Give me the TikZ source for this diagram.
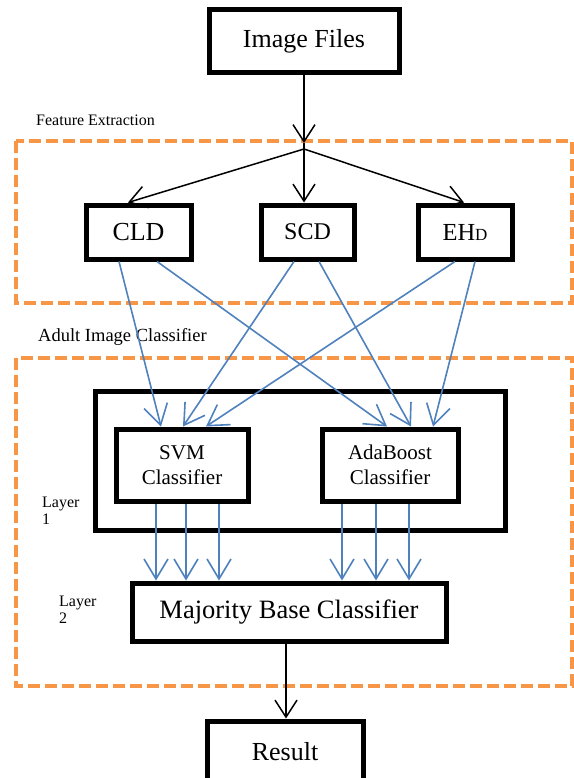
\documentclass[tikz,border=0pt]{standalone}
\usepackage{fontspec}
\setmainfont{Liberation Serif}
\usetikzlibrary{arrows.meta,calc}
\definecolor{dashorange}{HTML}{F79646}
\definecolor{linkblue}{HTML}{4F81BD}
\begin{document}
\begin{tikzpicture}[x=1pt,y=-1pt,
  blk/.style={draw=black,line width=5pt,inner sep=0pt,align=center,font=\fontsize{26}{30}\selectfont},
  grp/.style={draw=dashorange,line width=4.5pt,dash pattern=on 12pt off 5pt},
  lbl/.style={inner sep=0pt,anchor=west,align=left},
  barrow/.style={draw=black,line width=1.5pt,-{Straight Barb[length=17pt,width=22pt]}},
  uarrow/.style={draw=linkblue,line width=1.6pt,-{Straight Barb[length=20pt,width=24pt]}}]
\useasboundingbox (0,0) rectangle (573,778);
% dashed groups
\draw[grp] (16,141) rectangle (572,303);
\draw[grp] (16,358) rectangle (572,686);
% labels
\node[lbl,font=\fontsize{16}{18}\selectfont] (fe) at (36,120) {Feature Extraction};
\node[lbl,font=\fontsize{18.5}{21}\selectfont] (aic) at (38,337) {Adult Image Classifier};
\node[lbl,font=\fontsize{16}{17}\selectfont] (l1) at (42,511) {Layer\\1};
\node[lbl,font=\fontsize{16}{17}\selectfont] (l2) at (59,610) {Layer\\2};
% boxes
\node[blk,minimum width=190pt,minimum height=63pt] (img) at (304,41.5) {Image Files};
\node[blk,minimum width=105pt,minimum height=54pt] (cld) at (138.5,232) {CLD};
\node[blk,minimum width=93pt,minimum height=54pt,font=\fontsize{24}{28}\selectfont] (scd) at (307.5,232) {SCD};
\node[blk,minimum width=94pt,minimum height=54pt,font=\fontsize{24.5}{28}\selectfont] (ehd) at (465,232) {EH{\fontsize{17}{17}\selectfont D}};
\node[draw=black,line width=5pt,minimum width=410pt,minimum height=139pt] (lay) at (300,460.5) {};
\node[blk,minimum width=132pt,minimum height=72pt,font=\fontsize{21}{25}\selectfont] (svm) at (182,465) {SVM\\Classifier};
\node[blk,minimum width=136pt,minimum height=72pt,font=\fontsize{21}{25}\selectfont] (ada) at (390,465) {AdaBoost\\Classifier};
\node[blk,minimum width=314pt,minimum height=58pt,font=\fontsize{26.5}{30}\selectfont] (mbc) at (289,612) {Majority Base Classifier};
\node[blk,minimum width=156pt,minimum height=62pt] (res) at (285,752) {Result};
% black connectors
\coordinate (tip) at (304,143);
\coordinate (br) at (304,149);
\draw[barrow] (img.south -| tip) -- (tip);
\draw[line width=1.5pt] (tip) -- (br);
\draw[barrow] (br) -- ([xshift=-10.5pt]cld.north);
\draw[barrow] (br) -- (br |- scd.north);
\draw[barrow] (br) -- ([xshift=-1pt]ehd.north);
\draw[barrow] ([xshift=-3pt]mbc.south) -- ([xshift=-3pt]mbc.south |- res.north);
% blue connectors from features to classifiers
\draw[uarrow] ([xshift=-19.5pt]cld.south) -- ([xshift=-21pt]svm.north);
\draw[uarrow] ([xshift=18.5pt]cld.south) -- ([xshift=-3pt]ada.north);
\draw[uarrow] ([xshift=-13.5pt]scd.south) -- ([xshift=1pt]svm.north);
\draw[uarrow] ([xshift=11.5pt]scd.south) -- ([xshift=21pt]ada.north);
\draw[uarrow] ([xshift=-10pt]ehd.south) -- ([xshift=24pt]svm.north);
\draw[uarrow] ([xshift=10pt]ehd.south) -- ([xshift=43pt]ada.north);
% blue connectors from classifiers to majority
\foreach \dx in {-26,4,37} {
  \draw[uarrow] ([xshift=\dx pt]svm.south) -- ([xshift=\dx pt]svm.south |- mbc.north);
}
\foreach \dx in {-48,-14,19} {
  \draw[uarrow] ([xshift=\dx pt]ada.south) -- ([xshift=\dx pt]ada.south |- mbc.north);
}
\end{tikzpicture}
\end{document}
